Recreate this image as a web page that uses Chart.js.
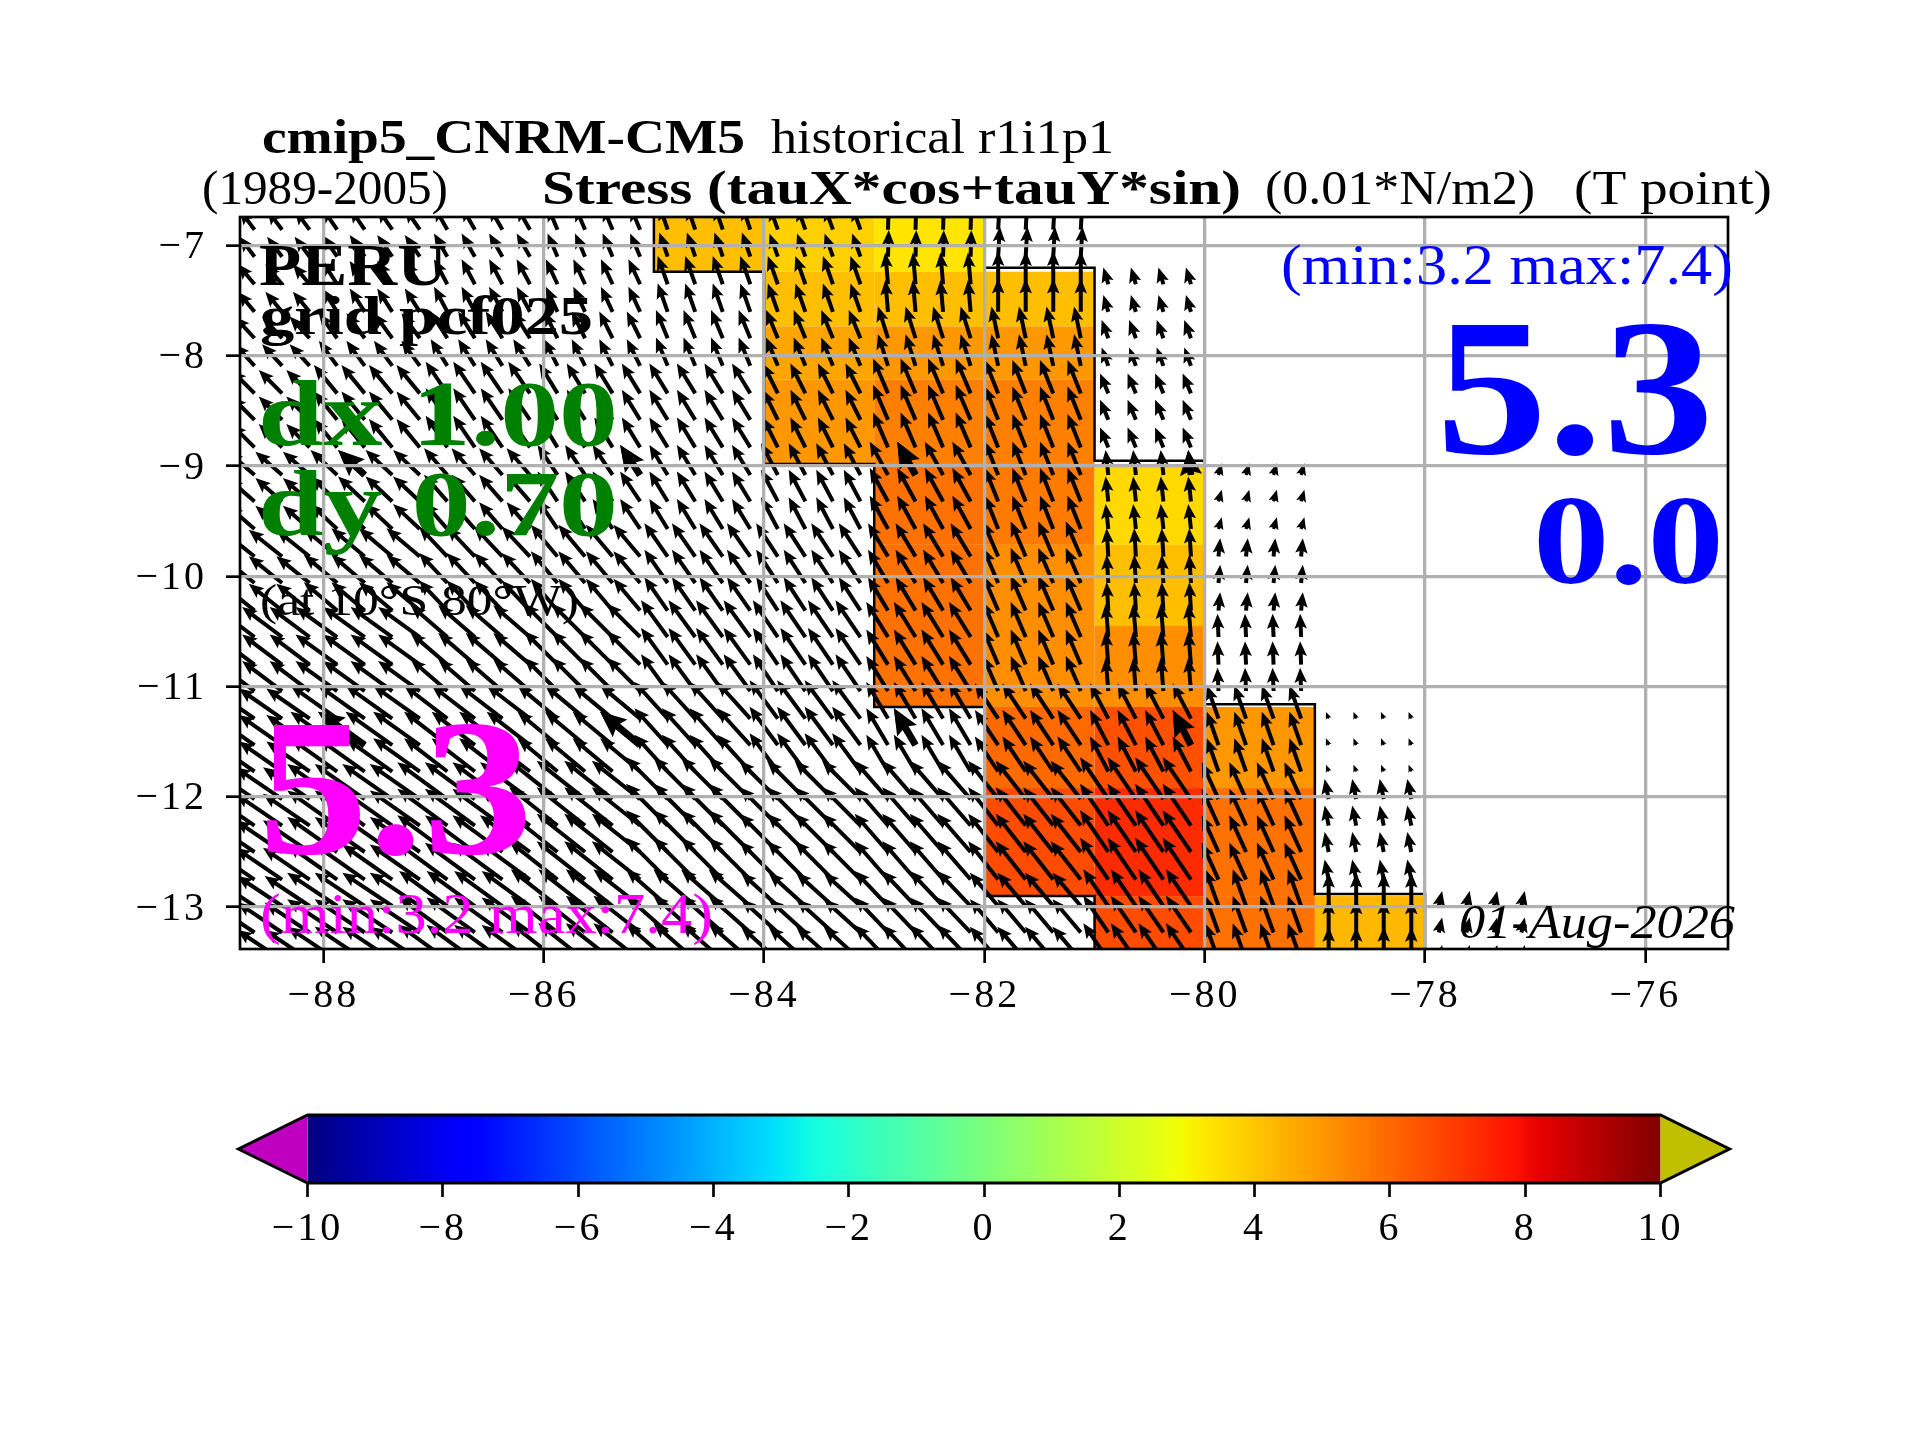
<!DOCTYPE html>
<html>
<head>
<meta charset="utf-8">
<title>Stress PERU</title>
<script src="https://cdn.jsdelivr.net/npm/chart.js@4"></script>
<style>
  html, body { margin: 0; padding: 0; background: #fff; }
  #wrap { position: relative; width: 1920px; height: 1440px; }
  canvas { position: absolute; left: 0; top: 0; }
</style>
</head>
<body>
<div id="wrap">
  <canvas id="map" width="1920" height="1440"></canvas>
  <canvas id="bar" width="1920" height="1440"></canvas>
</div>
<script>
  let xTicks = [-88, -86, -84, -82, -80, -78, -76];
  let yTicks = [-13, -12, -11, -10, -9, -8, -7];
  let barTicks = [-10, -8, -6, -4, -2, 0, 2, 4, 6, 8, 10];

  // colored cells, one row per latitude band, columns start at cellLons
  let cellLons = [-85, -84, -83, -82, -81, -80, -79, -78];
  let cellLats = [-6.74, -7.236, -7.735, -8.216, -8.98, -9.714, -10.45, -11.184, -11.92, -12.9, -13.38];
  let cellValues = [
    [4.15, 3.8, 3.34, null, null, null, null],
    [null, 4.15, 4.15, 4.15, null, null, null],
    [null, 4.7, 5.0, 5.0, null, null, null],
    [null, 5.0, 5.5, 5.5, null, null, null],
    [null, null, 5.8, 5.6, 3.6, null, null],
    [null, null, 5.8, 5.2, 4.15, null, null],
    [null, null, 5.8, 5.2, 5.2, null, null],
    [null, null, null, 5.95, 6.5, 5.0, null],
    [null, null, null, 6.6, 7.3, 5.8, null],
    [null, null, null, null, 6.6, 5.8, 4.3],
  ];

  // stress vectors, same latitude bands, one column per degree from -89
  let arrowLons = [
    -88.625, -88.375, -88.125, -87.875, -87.625, -87.375, -87.125, -86.875, -86.625, -86.375, -86.125, -85.875,
    -85.625, -85.375, -85.125, -84.875, -84.625, -84.375, -84.125, -83.875, -83.625, -83.375, -83.125, -82.875,
    -82.625, -82.375, -82.125, -81.875, -81.625, -81.375, -81.125, -80.875, -80.625, -80.375, -80.125, -79.875,
    -79.625, -79.375, -79.125, -78.875, -78.625, -78.375, -78.125, -77.875, -77.625, -77.375, -77.125,
  ];
  let arrowLats = [
    -6.855, -7.10, -7.35, -7.60, -7.84, -8.09, -8.34, -8.58, -8.83, -9.08, -9.32, -9.57, -9.82, -10.06,
    -10.31, -10.55, -10.80, -11.04, -11.29, -11.53, -11.77, -12.02, -12.26, -12.50, -12.75, -12.99, -13.23, -13.48,
  ];
  let stressU = [
    [-1.5, -1.5, -1.33, -1.0, -0.83, -0.83, 0.07, 0.17, null, null, null, null],
    [-1.67, -1.5, -1.33, -1.17, -1.0, -1.0, -0.27, 0, -0.5, null, null, null],
    [-2.0, -1.83, -1.67, -1.33, -1.17, -1.17, -1.0, -0.67, -0.67, null, null, null],
    [-2.33, -2.33, -2.17, -1.83, -1.83, -1.5, -1.5, -1.33, -0.83, null, null, null],
    [-2.67, -2.67, -2.33, -2.0, -1.83, -1.67, -1.83, -1.33, -0.27, 0.33, null, null],
    [-3.33, -3.33, -2.83, -2.67, -2.33, -2.17, -2.0, -1.5, -0.17, 0.17, null, null],
    [-4.0, -4.17, -3.67, -3.33, -2.67, -2.5, -2.17, -1.5, -0.27, -0.1, null, null],
    [-4.33, -4.67, -4.33, -4.0, -3.33, -2.83, -2.17, -2.33, -1.83, -1.17, -0.27, null],
    [-4.67, -5.0, -5.0, -4.83, -4.17, -3.83, -3.33, -3.0, -2.83, -1.67, -0.4, null],
    [-4.5, -5.0, -4.83, -4.67, -4.17, -3.67, -3.33, -2.83, -2.5, -1.33, 0, 0.33],
  ];
  let stressV = [
    [2.0, 2.17, 2.33, 2.33, 2.43, 2.33, 2.67, 3.0, null, null, null, null],
    [2.0, 2.33, 2.5, 2.5, 2.83, 2.83, 3.17, 3.33, 1.67, null, null, null],
    [2.17, 2.5, 2.67, 2.67, 2.83, 2.83, 3.17, 3.17, 1.83, null, null, null],
    [2.33, 2.83, 3.17, 3.0, 3.0, 3.0, 3.5, 3.33, 2.0, null, null, null],
    [2.33, 2.5, 2.67, 3.0, 3.0, 3.17, 3.33, 3.33, 2.5, 1.17, null, null],
    [2.67, 2.83, 3.0, 3.17, 3.33, 3.33, 3.33, 3.5, 2.83, 1.83, null, null],
    [3.0, 3.0, 3.17, 3.33, 3.67, 3.67, 3.5, 3.5, 3.33, 2.33, null, null],
    [3.0, 3.33, 3.33, 3.33, 3.67, 3.83, 3.67, 3.5, 3.5, 3.33, 0.67, null],
    [3.17, 3.5, 3.67, 3.83, 4.17, 3.83, 3.83, 3.83, 4.17, 3.67, 2.0, null],
    [3.0, 3.33, 3.5, 3.67, 3.67, 3.33, 3.5, 3.33, 3.67, 3.67, 3.33, 1.5],
  ];
  // the vectors that the overlay draws a second time, heavier
  let heavyLons = [-87.625, -85.125, -82.625, -80.125];
  let heavyLats = [-9.08, -11.53];

  // land mask outline, null breaks the line
  let coastLons = [-85, -85, -84, -84, -83, -83, -82, -82, -81, -81, null,
    -82, -82, -81, -81, -80, -80, -79, -79, -78, -78];
  let coastLats = [-6.74, -7.236, -7.236, -8.98, -8.98, -11.184, -11.184, -12.9, -12.9, -13.38, null,
    -6.74, -7.2, -7.2, -8.95, -8.95, -11.16, -11.16, -12.88, -12.88, -13.38];

  // jet colormap
  let jetR = [[0, 0], [0.35, 0], [0.66, 1], [0.89, 1], [1, 0.5]];
  let jetG = [[0, 0], [0.125, 0], [0.375, 1], [0.64, 1], [0.91, 0], [1, 0]];
  let jetB = [[0, 0.5], [0.11, 1], [0.34, 1], [0.65, 0], [1, 0]];

  function channel(stops, t) {
    for (let i = 1; i < stops.length; i++) {
      if (t <= stops[i][0]) {
        let f = (t - stops[i - 1][0]) / (stops[i][0] - stops[i - 1][0]);
        return Math.round(255 * (stops[i - 1][1] + f * (stops[i][1] - stops[i - 1][1])));
      }
    }
    return Math.round(255 * stops[stops.length - 1][1]);
  }

  function jet(value) {
    let t = Math.max(0, Math.min(1, (value + 10) / 20));
    return "rgb(" + channel(jetR, t) + "," + channel(jetG, t) + "," + channel(jetB, t) + ")";
  }

  let cellPoints = [];
  cellValues.forEach((row, r) => {
    row.forEach((value, c) => {
      if (value === null) return;
      cellPoints.push({
        x: cellLons[c], y: cellLats[r], x2: cellLons[c + 1], y2: cellLats[r + 1], value: value,
      });
    });
  });

  function bandOf(lat) {
    let band = 0;
    while (band < cellLats.length - 2 && lat < cellLats[band + 1]) band++;
    return band;
  }

  let arrowPoints = [];
  arrowLats.forEach(lat => {
    let band = bandOf(lat);
    arrowLons.forEach(lon => {
      let col = Math.floor(lon) + 89;
      if (stressU[band][col] === null) return;
      arrowPoints.push({ x: lon, y: lat, u: stressU[band][col], v: stressV[band][col] });
    });
  });

  let heavyPoints = arrowPoints.filter(p => heavyLons.includes(p.x) && heavyLats.includes(p.y));
  let coastPoints = coastLons.map((lon, i) => ({ x: lon === null ? NaN : lon, y: coastLats[i] === null ? NaN : coastLats[i] }));

  let serif = '"Liberation Serif"';
  // text, left, right, baseline
  let labels = [
    ["cmip5_CNRM-CM5", 262, 745, 153, "bold 48px " + serif, "#000"],
    ["historical r1i1p1", 771, 1114, 153, "48px " + serif, "#000"],
    ["(1989-2005)", 202, 448, 204, "48px " + serif, "#000"],
    ["Stress (tauX*cos+tauY*sin)", 542, 1241, 204, "bold 48px " + serif, "#000"],
    ["(0.01*N/m2)", 1265, 1535, 204, "48px " + serif, "#000"],
    ["(T point)", 1574, 1772, 204, "48px " + serif, "#000"],
    ["PERU", 259, 447, 285, "bold 60px " + serif, "#000"],
    ["grid pcf025", 260, 593, 334, "bold 55px " + serif, "#000"],
    ["dx 1.00", 258, 618, 445, "bold 94px " + serif, "#008000"],
    ["dy 0.70", 258, 618, 535, "bold 94px " + serif, "#008000"],
    ["(at 10\u00b0S 80\u00b0W)", 260, 579, 615, "44px " + serif, "#000"],
    ["5.3", 258, 533, 853, "bold 195px " + serif, "#ff00ff"],
    ["(min:3.2 max:7.4)", 260, 713, 933, "57px " + serif, "#ff00ff"],
    ["(min:3.2 max:7.4)", 1281, 1733, 284, "57px " + serif, "#0000ff"],
    ["5.3", 1436, 1714, 453, "bold 195px " + serif, "#0000ff"],
    ["0.0", 1533, 1724, 583, "bold 128px " + serif, "#0000ff"],
    ["01-Aug-2026", 1459, 1735, 938, "italic 48px " + serif, "#000"],
  ];

  function drawLabel(ctx, label) {
    ctx.save();
    ctx.font = label[4];
    ctx.fillStyle = label[5];
    ctx.textBaseline = "alphabetic";
    let w = ctx.measureText(label[0]).width;
    ctx.translate(label[1], label[3]);
    ctx.scale((label[2] - label[1]) / w, 1);
    ctx.fillText(label[0], 0, 0);
    ctx.restore();
  }

  function drawArrow(ctx, x, y, dx, dy, heavy) {
    let len = Math.hypot(dx, dy);
    let width = heavy ? 7 : 4;
    let headLen = heavy ? 26 : 15;
    let axisLen = heavy ? 23 : 13;
    let headWidth = heavy ? 23 : 12.5;
    let f = Math.min(1, len / headLen);
    width *= f; headLen *= f; axisLen *= f; headWidth *= f;
    ctx.save();
    ctx.translate(x, y);
    ctx.rotate(Math.atan2(dy, dx));
    ctx.beginPath();
    ctx.moveTo(0, -width / 2);
    ctx.lineTo(len - axisLen, -width / 2);
    ctx.lineTo(len - headLen, -headWidth / 2);
    ctx.lineTo(len, 0);
    ctx.lineTo(len - headLen, headWidth / 2);
    ctx.lineTo(len - axisLen, width / 2);
    ctx.lineTo(0, width / 2);
    ctx.closePath();
    ctx.fill();
    ctx.restore();
  }

  let arrowScale = 10;
  let tickSpacing = "3px";

  let mapPainter = {
    id: "mapPainter",
    beforeDraw(chart) {
      chart.ctx.letterSpacing = tickSpacing;
    },
    beforeDatasetsDraw(chart) {
      let ctx = chart.ctx, a = chart.chartArea, xs = chart.scales.x, ys = chart.scales.y;
      ctx.save();
      ctx.beginPath();
      ctx.rect(a.left, a.top, a.width, a.height);
      ctx.clip();
      chart.data.datasets[0].data.forEach(c => {
        let x1 = xs.getPixelForValue(c.x), x2 = xs.getPixelForValue(c.x2);
        let y1 = ys.getPixelForValue(c.y), y2 = ys.getPixelForValue(c.y2);
        ctx.fillStyle = jet(c.value);
        ctx.fillRect(x1, y1, x2 - x1, y2 - y1);
      });
      ctx.restore();
    },
    afterDatasetsDraw(chart) {
      let ctx = chart.ctx, a = chart.chartArea, xs = chart.scales.x, ys = chart.scales.y;
      ctx.save();
      ctx.beginPath();
      ctx.rect(a.left, a.top, a.width, a.height);
      ctx.clip();
      ctx.fillStyle = "#000";
      [chart.data.datasets[1], chart.data.datasets[2]].forEach((set, i) => {
        set.data.forEach(p => {
          drawArrow(ctx, xs.getPixelForValue(p.x), ys.getPixelForValue(p.y),
            p.u * arrowScale, -p.v * arrowScale, i === 1);
        });
      });
      ctx.restore();
    },
    afterDraw(chart) {
      let ctx = chart.ctx, a = chart.chartArea;
      ctx.save();
      ctx.strokeStyle = "#000";
      ctx.lineWidth = 2.67;
      ctx.strokeRect(a.left, a.top, a.width, a.height);
      ctx.restore();
      ctx.letterSpacing = "0px";
      labels.forEach(label => drawLabel(ctx, label));
    },
  };

  new Chart(document.getElementById("map"), {
    type: "scatter",
    data: {
      datasets: [
        { label: "cells", data: cellPoints, pointRadius: 0, showLine: false },
        { label: "stress", data: arrowPoints, pointRadius: 0, showLine: false },
        { label: "overlay", data: heavyPoints, pointRadius: 0, showLine: false },
        {
          label: "coast", data: coastPoints, pointRadius: 0, showLine: true, spanGaps: false,
          borderColor: "#000", borderWidth: 2.5,
        },
      ],
    },
    options: {
      responsive: false,
      animation: false,
      devicePixelRatio: 1,
      events: [],
      layout: { padding: { left: 0, top: 217, right: 192, bottom: 0 } },
      plugins: { legend: { display: false }, tooltip: { enabled: false } },
      scales: {
        x: {
          type: "linear",
          min: -88.757,
          max: -75.25,
          afterBuildTicks: scale => { scale.ticks = xTicks.map(v => ({ value: v })); },
          afterFit: scale => { scale.height = 491; },
          ticks: {
            autoSkip: false, maxRotation: 0, color: "#000", padding: 9,
            font: { family: "Liberation Serif", size: 40 },
            callback: v => String(v).replace("-", "\u2212"),
          },
          grid: { color: "#b0b0b0", lineWidth: 3.3, z: 1, tickColor: "#000", tickWidth: 2.67, tickLength: 14 },
          border: { display: false },
        },
        y: {
          type: "linear",
          min: -13.38,
          max: -6.74,
          afterBuildTicks: scale => { scale.ticks = yTicks.map(v => ({ value: v })); },
          afterFit: scale => { scale.width = 240; },
          ticks: {
            autoSkip: false, color: "#000", padding: 19, labelOffset: 2,
            font: { family: "Liberation Serif", size: 40 },
            callback: v => String(v).replace("-", "\u2212"),
          },
          grid: { color: "#b0b0b0", lineWidth: 3.3, z: 1, tickColor: "#000", tickWidth: 2.67, tickLength: 14 },
          border: { display: false },
        },
      },
    },
    plugins: [mapPainter],
  });

  // how far the under and over triangles reach past the ends of the bar
  let barExtend = 1.02;
  let underColor = "#c000c0";
  let overColor = "#c0c000";

  let barPainter = {
    id: "barPainter",
    beforeDraw(chart) {
      chart.ctx.letterSpacing = tickSpacing;
    },
    beforeDatasetsDraw(chart) {
      let ctx = chart.ctx, a = chart.chartArea, xs = chart.scales.x;
      let left = xs.getPixelForValue(-10), right = xs.getPixelForValue(10);
      let mid = (a.top + a.bottom) / 2;
      let grad = ctx.createLinearGradient(left, 0, right, 0);
      for (let i = 0; i <= 100; i++) grad.addColorStop(i / 100, jet(-10 + i / 5));
      ctx.save();
      ctx.fillStyle = grad;
      ctx.fillRect(left, a.top, right - left, a.height);
      let tipL = xs.getPixelForValue(-10 - barExtend), tipR = xs.getPixelForValue(10 + barExtend);
      ctx.fillStyle = underColor;
      ctx.beginPath();
      ctx.moveTo(left, a.top); ctx.lineTo(tipL, mid); ctx.lineTo(left, a.bottom); ctx.closePath();
      ctx.fill();
      ctx.fillStyle = overColor;
      ctx.beginPath();
      ctx.moveTo(right, a.top); ctx.lineTo(tipR, mid); ctx.lineTo(right, a.bottom); ctx.closePath();
      ctx.fill();
      ctx.strokeStyle = "#000";
      ctx.lineWidth = 3;
      ctx.lineJoin = "miter";
      ctx.beginPath();
      ctx.moveTo(left, a.top); ctx.lineTo(right, a.top); ctx.lineTo(tipR, mid); ctx.lineTo(right, a.bottom);
      ctx.lineTo(left, a.bottom); ctx.lineTo(tipL, mid); ctx.closePath();
      ctx.stroke();
      ctx.restore();
    },
  };

  new Chart(document.getElementById("bar"), {
    type: "scatter",
    data: { datasets: [{ label: "levels", data: barTicks.map(v => ({ x: v, y: 0 })), pointRadius: 0 }] },
    options: {
      responsive: false,
      animation: false,
      devicePixelRatio: 1,
      events: [],
      layout: { padding: { left: 307.5, top: 1115, right: 259.5, bottom: 0 } },
      plugins: { legend: { display: false }, tooltip: { enabled: false } },
      scales: {
        x: {
          type: "linear",
          min: -10,
          max: 10,
          afterBuildTicks: scale => { scale.ticks = barTicks.map(v => ({ value: v })); },
          afterFit: scale => { scale.height = 257; },
          ticks: {
            autoSkip: false, maxRotation: 0, color: "#000", padding: 8,
            font: { family: "Liberation Serif", size: 40 },
            callback: v => String(v).replace("-", "\u2212"),
          },
          grid: { drawOnChartArea: false, tickColor: "#000", tickWidth: 2.67, tickLength: 14 },
          border: { display: false },
        },
        y: { display: false, min: -1, max: 1 },
      },
    },
    plugins: [barPainter],
  });
</script>
</body>
</html>
